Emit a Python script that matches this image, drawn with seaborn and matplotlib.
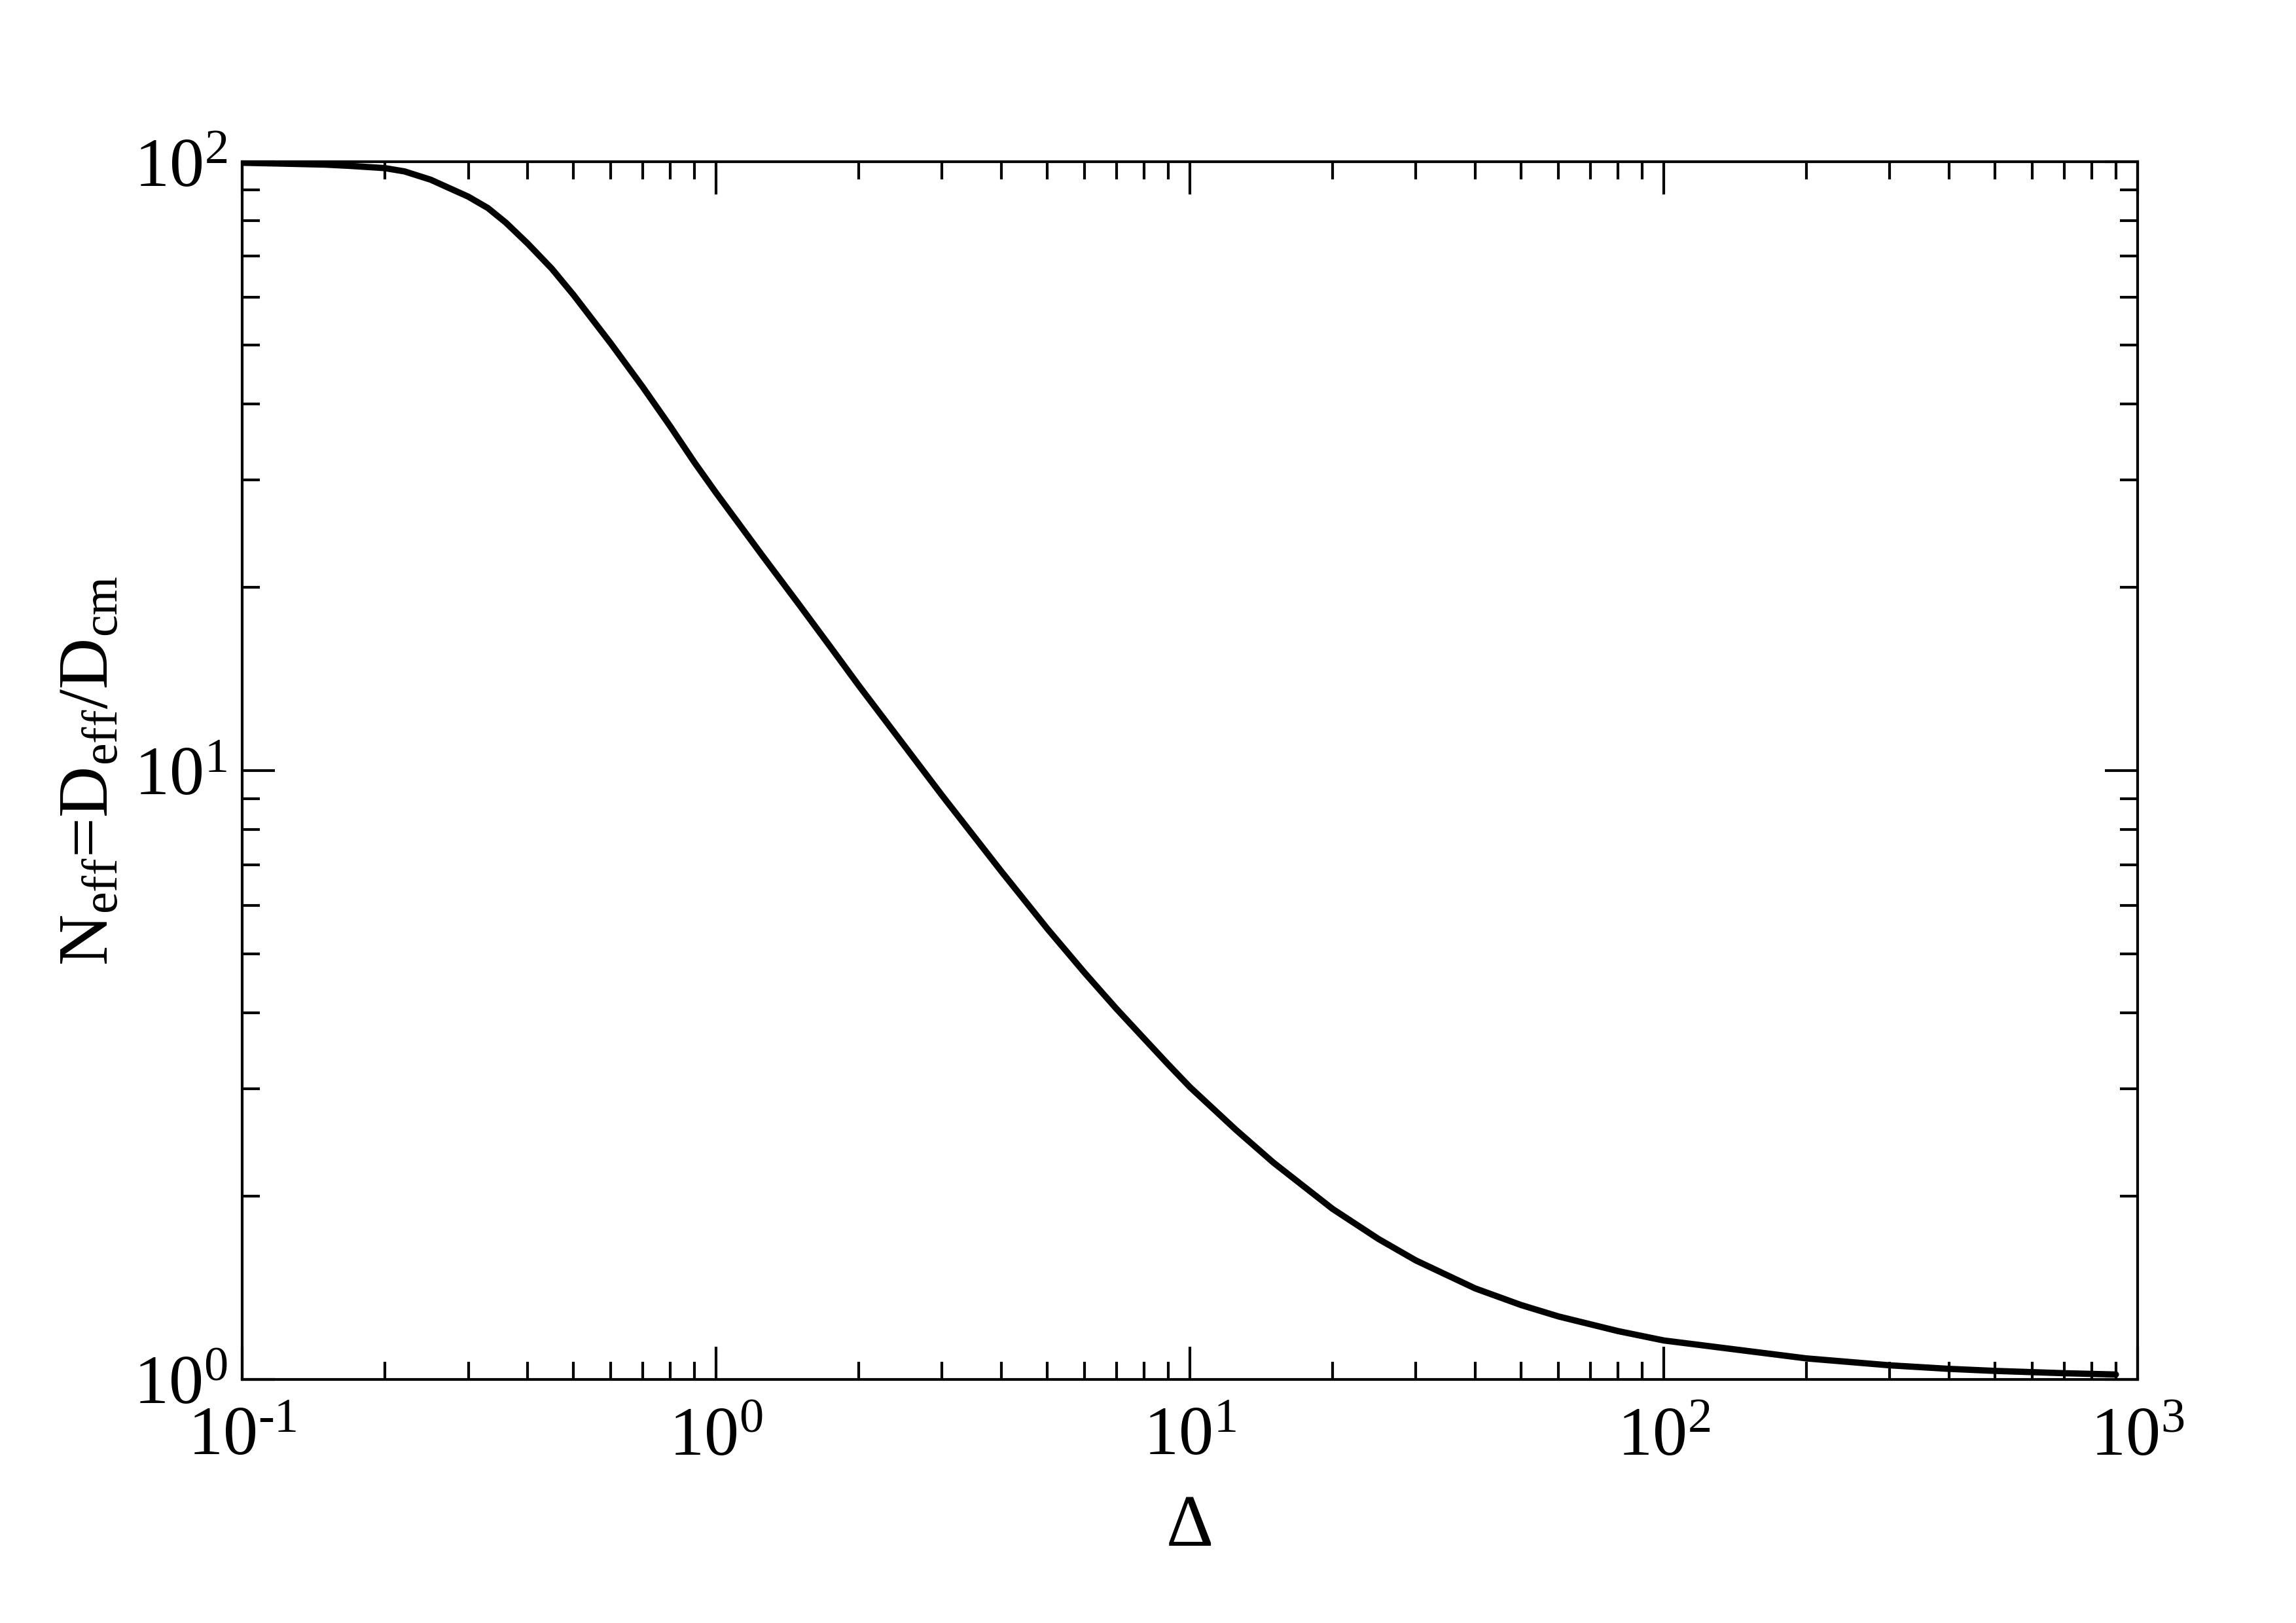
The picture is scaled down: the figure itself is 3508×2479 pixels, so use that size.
import math
import matplotlib
matplotlib.use("Agg")
import matplotlib.pyplot as plt
import matplotlib.ticker as mticker
import seaborn as sns
import pandas as pd

# Estilo
sns.set_style("ticks")
plt.rcParams['font.family'] = ['Liberation Serif', 'DejaVu Serif']
plt.rcParams['mathtext.fontset'] = 'custom'
plt.rcParams['mathtext.rm'] = 'Liberation Serif'
plt.rcParams['mathtext.it'] = 'Liberation Serif:italic'
plt.rcParams['mathtext.default'] = 'regular'
for k in ['text.color', 'axes.labelcolor', 'xtick.color', 'ytick.color', 'axes.edgecolor']:
    plt.rcParams[k] = 'black'

# Dados
delta = [0.1, 0.12, 0.15, 0.17, 0.2, 0.22, 0.25, 0.27, 0.3, 0.33, 0.36, 0.4, 0.45,
         0.5, 0.6, 0.7, 0.8, 0.9,
         1, 1.25, 1.5, 1.75, 2, 3, 4, 5, 6, 7, 8, 9,
         10, 12.5, 15, 20, 25, 30, 40, 50, 60, 80,
         100, 200, 300, 400, 500, 700, 900]
n_eff = [99.7, 99.4, 99.0, 98.5, 97.7, 96.5, 93.5, 91.0, 87.7, 84.0, 79.5, 73.5, 66.8,
         60.5, 50.3, 42.7, 36.8, 32.1,
         28.6, 22.6, 18.7, 15.9, 13.8, 9.1, 6.83, 5.5, 4.65, 4.06, 3.63, 3.29,
         3.02, 2.57, 2.27, 1.905, 1.70, 1.567, 1.41, 1.324, 1.268, 1.2,
         1.158, 1.082, 1.054, 1.04, 1.032, 1.023, 1.018]

df = pd.DataFrame({'delta': delta, 'n_eff': n_eff})


def log_label(val, pos):
    exp = int(round(math.log10(val)))
    if exp < 0:
        return r'$10^{\text{-}%d}$' % (-exp)
    return r'$10^{%d}$' % exp


fig, ax = plt.subplots(figsize=(3508 / 300, 2479 / 300), dpi=300)
fig.subplots_adjust(left=0.1055, right=0.931, top=0.9002, bottom=0.1502)

sns.lineplot(data=df, x='delta', y='n_eff', color='black', linewidth=2.3,
             estimator=None, ax=ax)

ax.set_xscale('log')
ax.set_yscale('log')
ax.set_xlim(0.1, 1000)
ax.set_ylim(1, 100)

ax.xaxis.set_major_locator(mticker.LogLocator(base=10, numticks=10))
ax.yaxis.set_major_locator(mticker.LogLocator(base=10, numticks=10))
ax.xaxis.set_major_formatter(mticker.FuncFormatter(log_label))
ax.yaxis.set_major_formatter(mticker.FuncFormatter(log_label))
ax.xaxis.set_minor_formatter(mticker.NullFormatter())
ax.yaxis.set_minor_formatter(mticker.NullFormatter())
ax.xaxis.set_minor_locator(mticker.LogLocator(base=10, subs=range(2, 10), numticks=20))
ax.yaxis.set_minor_locator(mticker.LogLocator(base=10, subs=range(2, 10), numticks=20))

for side in ax.spines.values():
    side.set_linewidth(1.0)
    side.set_color('black')

ax.tick_params(which='both', direction='in', top=True, right=True,
               color='black', width=1.0)
ax.tick_params(which='major', length=12, labelsize=25.5)
ax.tick_params(axis='x', which='major', pad=10)
ax.tick_params(axis='y', which='major', pad=5.5)
ax.tick_params(which='minor', length=6.4)

ax.set_xlabel('Δ', fontsize=27)
ax.set_ylabel('N$_{eff}$=D$_{eff}$/D$_{cm}$', fontsize=26)
ax.xaxis.set_label_coords(0.5, -0.095)
ax.yaxis.set_label_coords(-0.063, 0.5)

plt.savefig('out.png', dpi=300)
plt.close()
